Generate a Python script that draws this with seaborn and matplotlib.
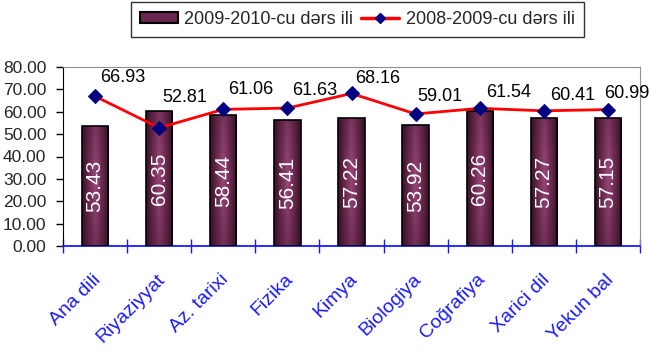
import numpy as np
import pandas as pd
import matplotlib
matplotlib.use("Agg")
import matplotlib.pyplot as plt
import matplotlib.transforms as mtransforms
import seaborn as sns
from matplotlib.patches import Rectangle
from matplotlib.lines import Line2D
from matplotlib.colors import LinearSegmentedColormap

categories = ["Ana dili", "Riyaziyyat", "Az. tarixi", "Fizika", "Kimya",
              "Biologiya", "Coğrafiya", "Xarici dil", "Yekun bal"]
vals_2010 = [53.43, 60.35, 58.44, 56.41, 57.22, 53.92, 60.26, 57.27, 57.15]
vals_2009 = [66.93, 52.81, 61.06, 61.63, 68.16, 59.01, 61.54, 60.41, 60.99]
yticks = [0, 10, 20, 30, 40, 50, 60, 70, 80]
series_names = ["2009-2010-cu dərs ili", "2008-2009-cu dərs ili"]

sns.set_style("white")
plt.rcParams['font.family'] = ['Liberation Sans', 'DejaVu Sans']

df = pd.DataFrame({"cat": categories, "v10": vals_2010, "v09": vals_2009})

fig = plt.figure(figsize=(6.5, 3.56), dpi=100)
ax = fig.add_axes([63/650, 1-246/356, (640-63)/650, (246-67)/356])

sns.barplot(data=df, x="cat", y="v10", ax=ax, color="#5a1f45", width=0.41,
            edgecolor="black", linewidth=1.2, saturation=1, zorder=2)

# gradient fill inside bars
xs = np.linspace(0, 1, 64)
ys = np.linspace(0, 1, 64)
X, Y = np.meshgrid(xs, ys)
hx = 1 - np.abs(X - 0.5) * 2
vy = (1 - np.abs(Y - 0.55) * 1.6).clip(0, 1)
grad = (0.55 * hx + 0.45 * hx * vy).clip(0, 1)
gcmap = LinearSegmentedColormap.from_list("g2", ["#3a1028", "#9a4678"])
for p in ax.patches:
    x0, y0 = p.get_x(), p.get_y()
    w, h = p.get_width(), p.get_height()
    im = ax.imshow(grad, cmap=gcmap, extent=[x0, x0 + w, y0, y0 + h], aspect="auto",
                   origin="lower", zorder=2.5, interpolation="bicubic")
    im.set_clip_path(p)
    p.set_facecolor("none")
    p.set_zorder(3)

sns.lineplot(data=df, x="cat", y="v09", ax=ax, color="#ff0000", linewidth=2,
             marker="D", markersize=7, markerfacecolor="#000080",
             markeredgecolor="#000080", zorder=4, sort=False)

# bar labels
for i, v in enumerate(vals_2010):
    ax.text(i, v / 2, f"{v:.2f}", rotation=90, ha="center", va="center",
            color="white", fontsize=15, zorder=5)

# line labels (offsets in pixels from marker centre to label baseline-left)
label_offsets = [(5, 14), (3, 26), (5, 15), (5, 13), (4, 10), (2, 13), (6, 11), (6, 11), (-4, 12)]
for i, v in enumerate(vals_2009):
    dx, dy = label_offsets[i]
    ax.annotate(f"{v:.2f}", (i, v), xytext=(dx * 0.72, dy * 0.72), textcoords="offset points",
                ha="left", va="baseline", fontsize=13, color="black", zorder=5,
                annotation_clip=False)

ax.set_xlim(-0.5, 8.5)
ax.set_ylim(0, 80)
ax.set_yticks(yticks)
ax.set_yticklabels([f"{t:.2f}" for t in yticks], fontsize=12.5)
ax.set_xlabel("")
ax.set_ylabel("")

ax.set_xticks(range(len(categories)))
ax.set_xticklabels(categories, rotation=45, ha="right", va="top", rotation_mode="anchor",
                   fontsize=14, color="#1a1aff")
ax.set_xticks(np.arange(-0.5, 9, 1), minor=True)
ax.tick_params(axis="x", which="major", bottom=True, length=0, pad=18)
ax.tick_params(axis="x", which="minor", bottom=True, length=9.5, direction="inout",
               color="#1a1aff", width=1)
ax.tick_params(axis="y", which="major", left=True, length=5, direction="out",
               color="black", width=1, pad=7)
off = mtransforms.ScaledTranslation(-3/100, 0, fig.dpi_scale_trans)
for lab in ax.get_xticklabels():
    lab.set_transform(lab.get_transform() + off)

ax.spines["left"].set_color("black")
ax.spines["bottom"].set_color("#1a1aff")
ax.spines["bottom"].set_linewidth(1.3)
ax.spines["top"].set_color("#909090")
ax.spines["right"].set_color("#909090")
for s in ax.spines.values():
    s.set_visible(True)

handles = [Rectangle((0, 0), 1, 1, facecolor="#6a2550", edgecolor="black", linewidth=1.5),
           Line2D([0], [0], color="#ff0000", linewidth=2.5, marker="D", markersize=5.5,
                  markerfacecolor="#000080", markeredgecolor="#000080")]
leg = fig.legend(handles, series_names, loc="upper left", bbox_to_anchor=(131/650, 1 - 2/356),
                 ncol=2, fontsize=13, frameon=True, fancybox=False, edgecolor="black",
                 handlelength=2.1, handleheight=0.6, handletextpad=0.35, columnspacing=0.45,
                 borderpad=0.5, borderaxespad=0)
leg.get_frame().set_linewidth(1)

fig.savefig("out.png", dpi=100)
